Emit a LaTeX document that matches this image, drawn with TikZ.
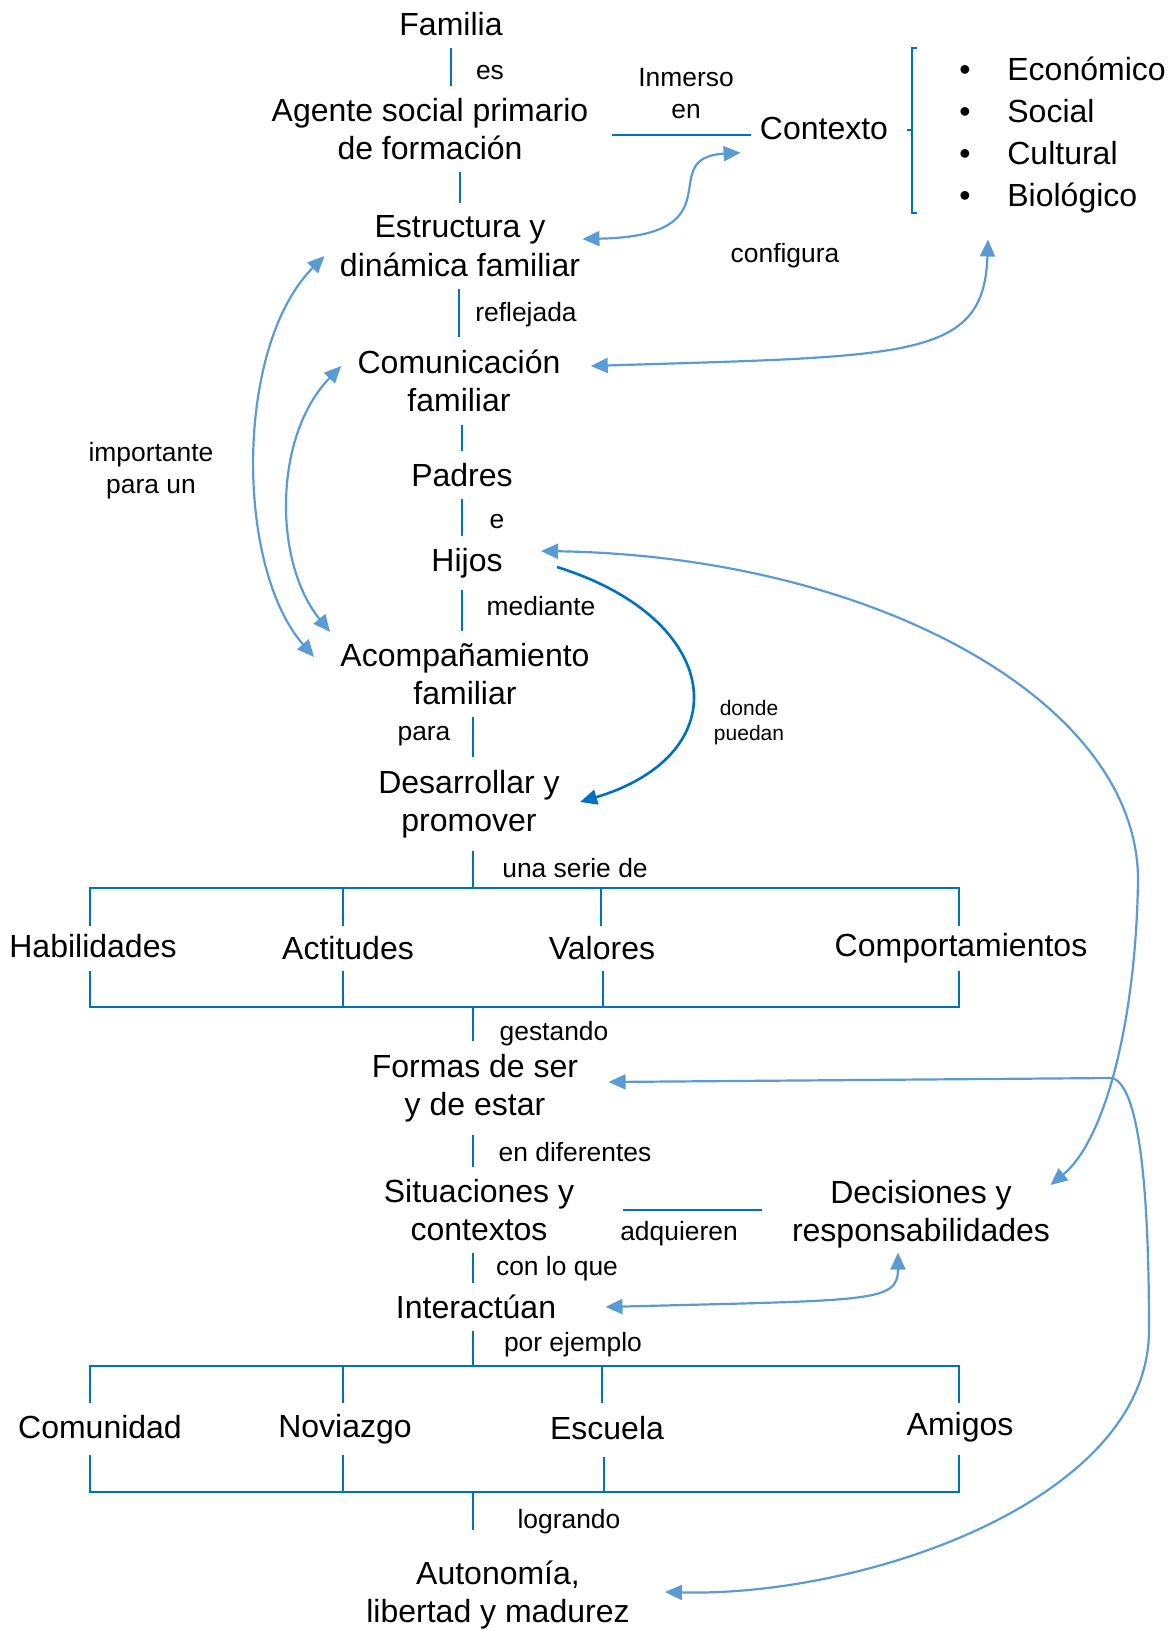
\documentclass[tikz,border=0pt]{standalone}
\usepackage{fontspec}
\setmainfont{Liberation Sans}
\usepackage{tikz}
\usetikzlibrary{arrows.meta}
\definecolor{linkblue}{HTML}{0070C0}
\definecolor{arrowblue}{HTML}{5B9BD5}

\begin{document}
\begin{tikzpicture}[
  x=0.5pt, y=-0.5pt,
  idea/.style={align=center, inner sep=0pt, font=\fontsize{16}{19.25}\selectfont},
  verb_style/.style={align=center, inner sep=0pt, font=\fontsize{13.2}{16}\selectfont},
  small_verb/.style={align=center, inner sep=0pt, font=\fontsize{10.5}{12.5}\selectfont},
  link/.style={draw=linkblue, line width=1.2pt, shorten <=6pt, shorten >=6pt},
  bar_style/.style={draw=linkblue, line width=1.2pt},
  rel/.style={{Triangle[length=8.5pt,width=7.5pt]}-{Triangle[length=8.5pt,width=7.5pt]},
              draw=arrowblue, line width=1.1pt},
  rel_one/.style={-{Triangle[length=8.5pt,width=7.5pt]}, draw=linkblue, line width=1.3pt}
]
\useasboundingbox (0,0) rectangle (1175,1631);

% Main chain
\node[idea] (familia) at (451,24) {Familia};
\node[idea] (agente) at (430,129) {Agente social primario\\de formación};
\node[idea] (estructura) at (460,246) {Estructura y\\dinámica familiar};
\node[idea] (comunicacion) at (459,381) {Comunicación\\familiar};
\node[idea] (padres) at (462,475) {Padres};
\node[idea] (hijos) at (467,563) {Hijos};
\node[idea] (acompanamiento) at (465,674) {Acompañamiento\\familiar};
\node[idea] (desarrollar) at (469,804) {Desarrollar y\\promover};
\node[idea] (formas) at (475,1088) {Formas de ser\\y de estar};
\node[idea] (situaciones) at (479,1210) {Situaciones y\\contextos};
\node[idea] (interactuan) at (476,1307) {Interactúan};
\node[idea] (autonomia) at (498,1595) {Autonomía,\\libertad y madurez};

% Context
\node[idea] (contexto) at (824,128) {Contexto};
\node[idea, align=left, anchor=west, font=\fontsize{16}{21}\selectfont] (lista) at (959,135)
      {\makebox[24pt][l]{\textbullet}Económico\\
       \makebox[24pt][l]{\textbullet}Social\\
       \makebox[24pt][l]{\textbullet}Cultural\\
       \makebox[24pt][l]{\textbullet}Biológico};
\node[idea] (decisiones) at (921,1214) {Decisiones y\\responsabilidades};

% First group
\node[idea] (habilidades) at (93,946) {Habilidades};
\node[idea] (actitudes) at (348,948) {Actitudes};
\node[idea] (valores) at (602,948) {Valores};
\node[idea] (comportamientos) at (961,948) {Comportamientos};

% Second group
\node[idea] (comunidad) at (100,1427) {Comunidad};
\node[idea] (noviazgo) at (345,1429) {Noviazgo};
\node[idea] (escuela) at (607,1428) {Escuela};
\node[idea] (amigos) at (960,1427) {Amigos};

% Linking words
\node[verb_style] (v_es) at (490,73) {es};
\node[verb_style] (v_inmerso) at (686,94) {Inmerso\\en};
\node[verb_style] (v_configura) at (785,256) {configura};
\node[verb_style] (v_reflejada) at (526,315) {reflejada};
\node[verb_style] (v_importante) at (151,471) {importante\\para un};
\node[verb_style] (v_e) at (497,522) {e};
\node[verb_style] (v_mediante) at (541,606) {mediante};
\node[verb_style] (v_para) at (424,736) {para};
\node[small_verb] (v_donde) at (749,723) {donde\\puedan};
\node[verb_style] (v_serie) at (575,868) {una serie de};
\node[verb_style] (v_gestando) at (554,1034) {gestando};
\node[verb_style] (v_diferentes) at (575,1152) {en diferentes};
\node[verb_style] (v_adquieren) at (679,1234) {adquieren};
\node[verb_style] (v_conloque) at (557,1269) {con lo que};
\node[verb_style] (v_ejemplo) at (573,1345) {por ejemplo};
\node[verb_style] (v_logrando) at (569,1522) {logrando};

% Helper points
\coordinate (g1top) at (473,888);
\coordinate (g1bot) at (473,1007);
\coordinate (g2top) at (473,1366);
\coordinate (g2bot) at (473,1492);
\coordinate (codo1) at (1138,880);
\coordinate (codo2) at (1112,1078);
\coordinate (codo3) at (1149,1330);

% Bracket of the context list
\draw[draw=linkblue, line width=0.9pt] (917,48) -- (912,48) -- (912,213) -- (917,213)
      (912,130) -- (907,130);

% Group frames
\draw[bar_style] (90,926) -- (90,888) -- (959,888) -- (959,926)
      (343,888) -- (343,926) (601,888) -- (601,926)
      (90,971) -- (90,1007) -- (959,1007) -- (959,971)
      (343,971) -- (343,1007) (603,971) -- (603,1007);
\draw[bar_style] (90,1403) -- (90,1366) -- (959,1366) -- (959,1403)
      (343,1366) -- (343,1403) (602,1366) -- (602,1403)
      (90,1455) -- (90,1492) -- (959,1492) -- (959,1455)
      (343,1455) -- (343,1492) (604,1457) -- (604,1492);

% Straight links
\draw[link] (familia) -- (familia |- agente.north);
\draw[link] (agente.south -| estructura) -- (estructura);
\draw[link] (estructura.south -| comunicacion) -- (comunicacion);
\draw[link] (comunicacion.south -| padres) -- (padres);
\draw[link] (padres) -- (padres |- hijos.north);
\draw[link] (hijos.south -| padres) -- (padres |- acompanamiento.north);
\draw[link] (acompanamiento.south -| g1top) -- (desarrollar.north -| g1top);
\draw[link, shorten >=0pt] (desarrollar.south -| g1top) -- (g1top);
\draw[link, shorten <=0pt] (g1bot) -- (formas.north -| g1bot);
\draw[link] (formas.south -| g1top) -- (situaciones.north -| g1top);
\draw[link] (situaciones.south -| g1top) -- (interactuan.north -| g1top);
\draw[link, shorten >=0pt] (interactuan.south -| g2top) -- (g2top);
\draw[link, shorten <=0pt, shorten >=15pt] (g2bot) -- (autonomia.north -| g2bot);
\draw[link, shorten <=11.5pt, shorten >=4.5pt]
      ([yshift=-3pt]agente.east) -- ([yshift=-3pt]agente.east -| contexto.west);
\draw[link, shorten <=24pt, shorten >=15pt]
      (situaciones.east) -- (situaciones.east -| decisiones.west);

% Curved relations
\draw[rel] ([shift={(-19,13)}]contexto.south west)
      .. controls +(-88,5) and +(158,-3) .. ([shift={(2,-7)}]estructura.east);
\draw[rel] ([shift={(30,-15)}]comunicacion.east)
      .. controls +(320,-10) and +(-4,120) .. ([shift={(29,26)}]lista.south west);
\draw[rel] ([shift={(-15,10)}]estructura.west)
      .. controls +(-90,90) and +(-79,-90) .. ([shift={(-26,-17)}]acompanamiento.west);
\draw[rel] ([shift={(-16,-15)}]comunicacion.west)
      .. controls +(-68,70) and +(-57,-70) .. ([shift={(-10,-42)}]acompanamiento.west);
\draw[rel_one] ([shift={(54,4)}]hijos.east)
      .. controls +(167,52) and +(160,-48) .. ([shift={(20,-2)}]desarrollar.east);
\draw[rel] ([shift={(38,-12)}]hijos.east)
      .. controls +(330,5) and +(0,-180) .. (codo1)
      .. controls +(-2,140) and +(55,-45) .. ([shift={(0,-29)}]decisiones.east);
\draw[rel] ([shift={(30,-6)}]formas.east) -- (codo2)
      .. controls +(30,8) and +(0,-120) .. (codo3)
      .. controls +(0,170) and +(200,5) .. ([shift={(35,-3)}]autonomia.east);
\draw[rel] ([shift={(49,0)}]interactuan.east)
      .. controls +(267,-7) and +(0,50) .. ([shift={(-23,4)}]decisiones.south);

\end{tikzpicture}
\end{document}
